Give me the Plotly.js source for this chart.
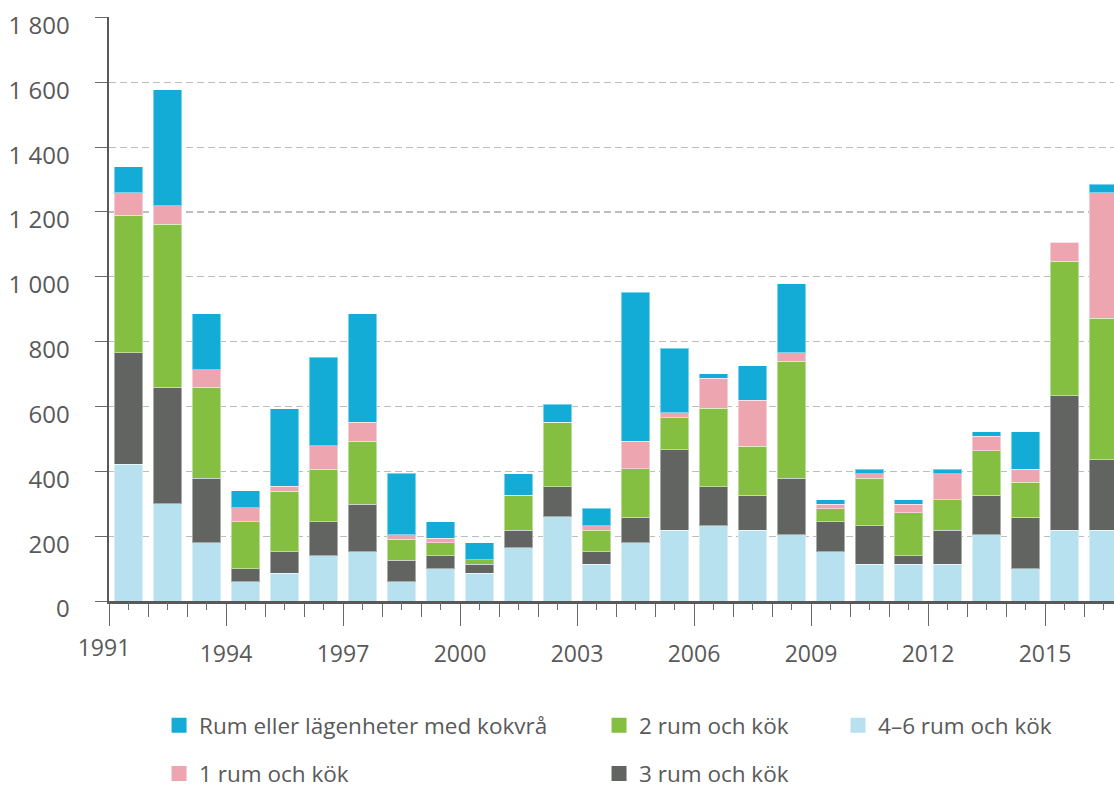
<!DOCTYPE html>
<html>
<head>
<meta charset="utf-8">
<script src="https://cdn.plot.ly/plotly-3.0.1.min.js"></script>
<style>html,body{margin:0;padding:0;background:#ffffff;}</style>
</head>
<body>
<div id="chart" style="width:1114px;height:785px;"></div>
<script>
// ---- data ----
const YEARS = [1991,1992,1993,1994,1995,1996,1997,1998,1999,2000,2001,2002,2003,2004,2005,2006,2007,2008,2009,2010,2011,2012,2013,2014,2015,2016];
const SERIES_NAMES = ["4\u20136 rum och k\u00f6k", "3 rum och k\u00f6k", "2 rum och k\u00f6k", "1 rum och k\u00f6k", "Rum eller l\u00e4genheter med kokvr\u00e5"];
const ROOMS_4_6 = [422,300,179,59,86,139,152,60,100,86,165,260,113,179,219,232,219,205,152,113,113,113,205,100,219,219];
const ROOMS_3   = [344,360,200,40,66,106,147,65,39,27,54,93,39,80,247,121,107,174,93,119,26,105,121,159,414,216];
const ROOMS_2   = [424,502,281,146,187,161,194,66,40,14,107,198,67,149,99,241,151,360,40,147,133,94,138,107,415,437];
const ROOMS_1   = [70,57,53,42,15,73,58,14,14,0,0,0,13,85,15,93,143,27,14,14,27,81,44,41,58,388];
const KOKVRA    = [80,358,173,53,239,273,335,189,52,52,67,56,54,460,200,14,106,212,14,14,14,14,14,115,0,26];
const X_TICK_LABELS = ["1991","1994","1997","2000","2003","2006","2009","2012","2015"];
const Y_TICK_VALUES = [0,200,400,600,800,1000,1200,1400,1600,1800];
const Y_TICK_LABELS = ["0","200","400","600","800","1 000","1 200","1 400","1 600","1 800"];

// ---- styles ----
const COLORS = ["#b8e1ef", "#626462", "#84bf41", "#eda5b0", "#13acd7"];
const SERIES = [ROOMS_4_6, ROOMS_3, ROOMS_2, ROOMS_1, KOKVRA];
const LEGEND_OF = ["legend3", "legend5", "legend2", "legend4", "legend"];
const TXT = "#595959";
const FONT = "Open Sans, DejaVu Sans, sans-serif";

const traces = [];
SERIES.forEach((vals, i) => {
  traces.push({
    type: "bar", x: YEARS, y: vals, name: SERIES_NAMES[i],
    marker: {color: COLORS[i], line: {color: "rgba(255,255,255,0.45)", width: 1}},
    showlegend: false, hoverinfo: "x+y+name"
  });
});
// legend entries (no data points) with square symbols, attached to the overlay axis
SERIES.forEach((vals, i) => {
  traces.push({
    type: "scatter", mode: "markers", x: [null], y: [null], xaxis: "x2", yaxis: "y",
    name: SERIES_NAMES[i],
    marker: {symbol: "square", size: 15, color: COLORS[i]},
    legend: LEGEND_OF[i], showlegend: true, hoverinfo: "skip"
  });
});

const firstLabelYear = parseInt(X_TICK_LABELS[0], 10);
const majorVals = [firstLabelYear - 0.5].concat(X_TICK_LABELS.slice(1).map(s => parseInt(s, 10) - 0.5));
const majorText = [""].concat(X_TICK_LABELS.slice(1));
const xRange = [YEARS[0] - 0.5, YEARS[0] - 0.5 + 1005 / 39];

const legendBase = {orientation: "v", xanchor: "left", yanchor: "middle", bgcolor: "rgba(0,0,0,0)",
  borderwidth: 0, font: {family: FONT, size: 22.5, color: TXT}, itemclick: false, itemdoubleclick: false};

const layout = {
  width: 1114, height: 785,
  margin: {l: 109, r: 0, t: 17, b: 184, autoexpand: false},
  paper_bgcolor: "#ffffff", plot_bgcolor: "#ffffff",
  font: {family: FONT, color: TXT},
  barmode: "stack", bargap: 0.28,
  showlegend: true,
  xaxis: {
    range: xRange, type: "linear",
    showline: true, linecolor: "#595959", linewidth: 2.5,
    showgrid: false, zeroline: false,
    tickmode: "array", tickvals: majorVals, ticktext: majorText,
    ticks: "outside", ticklen: 22, tickwidth: 1, tickcolor: "#6a6a6a",
    tickfont: {family: FONT, size: 23, color: TXT},
    ticklabelstandoff: 9,
    minor: {ticks: "outside", ticklen: 13, tickwidth: 1, tickcolor: "#6a6a6a", tickmode: "linear", tick0: YEARS[0] - 0.5, dtick: 1, showgrid: false},
    automargin: false, fixedrange: true
  },
  xaxis2: {
    range: xRange, type: "linear", overlaying: "x", anchor: "y", side: "bottom",
    showline: false, showgrid: false, zeroline: false,
    tickmode: "array", tickvals: [firstLabelYear - 0.5].concat(YEARS), ticktext: [X_TICK_LABELS[0]].concat(YEARS.map(() => "")),
    ticks: "outside", ticklen: 8, tickwidth: 1, tickcolor: "#6a6a6a",
    tickfont: {family: FONT, size: 23, color: TXT},
    ticklabelstandoff: 18, ticklabelshift: -5,
    automargin: false, fixedrange: true
  },
  yaxis: {
    range: [0, 1801.5], type: "linear",
    showline: true, linecolor: "#595959", linewidth: 2.5,
    showgrid: true, gridcolor: "#bdbdbd", gridwidth: 1.3, griddash: "7px,4px",
    zeroline: false,
    tickmode: "array", tickvals: Y_TICK_VALUES, ticktext: Y_TICK_LABELS,
    ticks: "outside", ticklen: 12, tickwidth: 1, tickcolor: "#6a6a6a",
    tickfont: {family: FONT, size: 24, color: TXT},
    ticklabelstandoff: 20, ticklabelshift: 8,
    automargin: false, fixedrange: true
  },
  legend:  Object.assign({}, legendBase, {x: 0.0498, y: -0.2135}),
  legend2: Object.assign({}, legendBase, {x: 0.4876, y: -0.2135}),
  legend3: Object.assign({}, legendBase, {x: 0.7254, y: -0.2135}),
  legend4: Object.assign({}, legendBase, {x: 0.0498, y: -0.2962}),
  legend5: Object.assign({}, legendBase, {x: 0.4876, y: -0.2962})
};

Plotly.newPlot("chart", traces, layout, {displayModeBar: false, staticPlot: true});
</script>
</body>
</html>
